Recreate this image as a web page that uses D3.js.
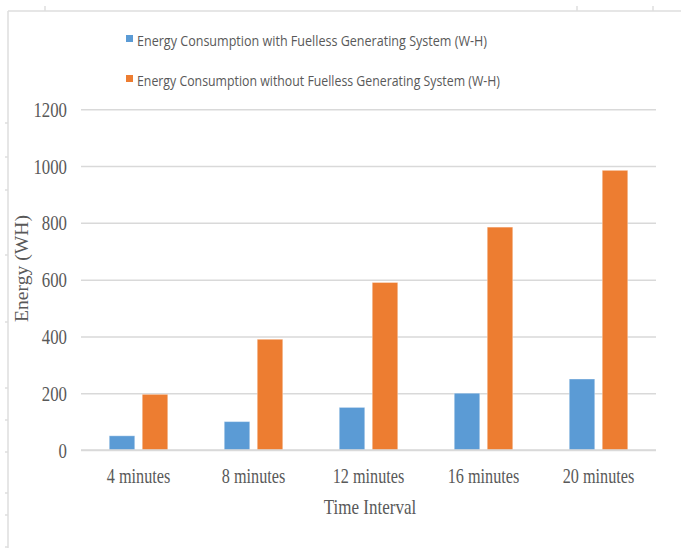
<!DOCTYPE html>
<html>
<head>
<meta charset="utf-8">
<script src="https://cdn.jsdelivr.net/npm/d3@7"></script>
<style>
  html, body { margin: 0; padding: 0; background: #fff; }
  svg { display: block; }
</style>
</head>
<body>
<svg id="chart" width="681" height="548"></svg>
<script>
// ---- data ----
const categories = ["4 minutes", "8 minutes", "12 minutes", "16 minutes", "20 minutes"];
const withFuelless = [50, 100, 150, 200, 250];
const withoutFuelless = [196, 390, 590, 785, 985];
const seriesNames = [
  "Energy Consumption with Fuelless Generating System (W-H)",
  "Energy Consumption without Fuelless Generating System (W-H)"
];
const yTicks = [0, 200, 400, 600, 800, 1000, 1200];
const xTitle = "Time Interval";
const yTitle = "Energy (WH)";

const colors = ["#5B9BD5", "#ED7D31"];
const textColor = "#595959";
const gridColor = "#d9d9d9";
const serif = "'Liberation Serif', 'Times New Roman', serif";
const sans = "'Open Sans', 'Noto Sans', sans-serif";
const SY = 1.28; // vertical stretch of the source image

const svg = d3.select("#chart");

// ---- page frame decoration ----
const frame = svg.append("g").attr("stroke", "#dedede").attr("stroke-width", 1.5).attr("fill", "none");
frame.append("line").attr("x1", 8).attr("x2", 681).attr("y1", 11).attr("y2", 11);
frame.append("line").attr("x1", 8).attr("x2", 8).attr("y1", 11).attr("y2", 548);
[45, 577, 653].forEach(x => frame.append("line").attr("x1", x).attr("x2", x).attr("y1", 6).attr("y2", 11));
[123, 157, 190, 255, 322, 388, 420, 452, 493, 515, 547].forEach(y =>
  frame.append("line").attr("x1", 5).attr("x2", 8).attr("y1", y).attr("y2", y));

// ---- scales ----
const plot = { left: 81, right: 656, top: 109.3, bottom: 450 };
const x0 = d3.scaleBand().domain(categories).range([plot.left, plot.right]).paddingInner(0).paddingOuter(0);
const y = d3.scaleLinear().domain([0, 1200]).range([plot.bottom, plot.top]);
const barW = 25.5, barGap = 7.5;
const x1 = d3.scaleOrdinal().domain([0, 1]).range([-(barGap / 2 + barW), barGap / 2]);

// ---- gridlines ----
const grid = svg.append("g")
  .attr("transform", `translate(${plot.left},0)`)
  .call(d3.axisLeft(y).tickValues(yTicks).tickSize(-(plot.right - plot.left)).tickFormat(""));
grid.select(".domain").remove();
grid.selectAll(".tick line").attr("stroke", gridColor).attr("stroke-width", 1.5);

// ---- bars ----
const series = [withFuelless, withoutFuelless];
series.forEach((vals, si) => {
  svg.append("g").selectAll("rect")
    .data(vals)
    .join("rect")
    .attr("x", (d, i) => x0(categories[i]) + x0.bandwidth() / 2 + x1(si))
    .attr("width", barW)
    .attr("y", d => y(d))
    .attr("height", d => y(0) - y(d))
    .attr("fill", colors[si])
    .attr("stroke", "rgba(255,255,255,0.35)")
    .attr("stroke-width", 1);
});

// ---- x axis ----
const xAxis = svg.append("g")
  .attr("transform", `translate(0,${plot.bottom})`)
  .call(d3.axisBottom(x0).tickSize(0).tickPadding(0));
xAxis.select(".domain").attr("stroke", gridColor).attr("stroke-width", 1.5)
  .attr("d", `M${plot.left},0H${plot.right}`);
xAxis.selectAll(".tick text")
  .attr("font-family", serif).attr("font-size", 16.2).attr("fill", textColor)
  .attr("y", 25.8).attr("dy", 0)
  .attr("transform", `scale(1,${SY})`);

// ---- y axis labels ----
const yAxis = svg.append("g")
  .attr("transform", `translate(${plot.left},0)`)
  .call(d3.axisLeft(y).tickValues(yTicks).tickSize(0).tickPadding(14).tickFormat(d3.format("d")));
yAxis.select(".domain").remove();
yAxis.selectAll(".tick text")
  .attr("font-family", serif).attr("font-size", 16.8).attr("fill", textColor)
  .attr("dy", 0).attr("y", 5.5)
  .attr("transform", `scale(1,${SY})`);

// ---- titles ----
svg.append("g").attr("transform", `translate(370,514) scale(1,${SY})`)
  .append("text").attr("text-anchor", "middle")
  .attr("font-family", serif).attr("font-size", 17).attr("fill", textColor)
  .text(xTitle);

svg.append("text")
  .attr("transform", "translate(27.5,268.5) rotate(-90)")
  .attr("text-anchor", "middle")
  .attr("font-family", serif).attr("font-size", 18).attr("fill", textColor)
  .attr("textLength", 107).attr("lengthAdjust", "spacingAndGlyphs")
  .text(yTitle);

// ---- legend ----
const legendRows = [
  { y: 46, len: 350 },
  { y: 86, len: 363 }
];
const legend = svg.append("g");
seriesNames.forEach((name, i) => {
  const r = legendRows[i];
  legend.append("rect").attr("x", 126).attr("y", r.y - 11).attr("width", 7).attr("height", 7).attr("fill", colors[i]);
  legend.append("text").attr("x", 137).attr("y", r.y)
    .attr("font-family", sans).attr("font-size", 14).attr("fill", textColor)
    .attr("textLength", r.len).attr("lengthAdjust", "spacingAndGlyphs")
    .text(name);
});
</script>
</body>
</html>
